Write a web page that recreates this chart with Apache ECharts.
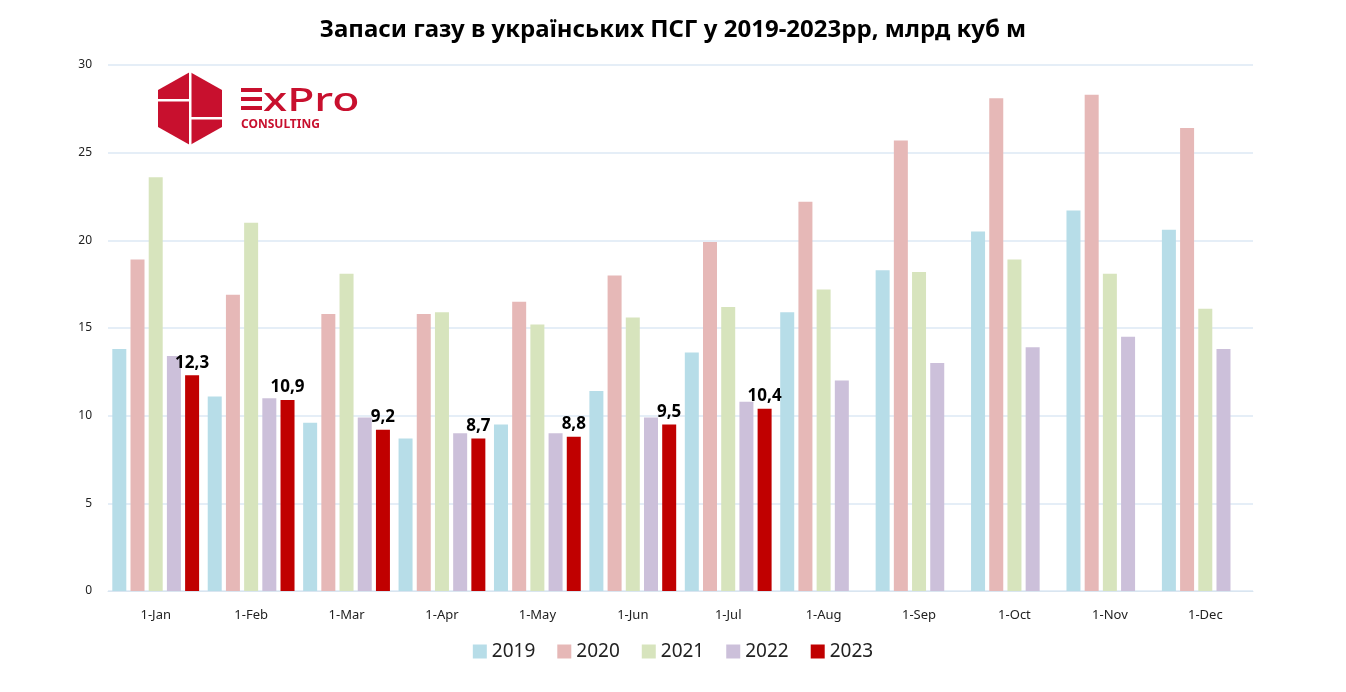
<!DOCTYPE html>
<html>
<head>
<meta charset="utf-8">
<script src="https://cdn.jsdelivr.net/npm/echarts@6/dist/echarts.min.js"></script>
<style>
    html, body { margin: 0; padding: 0; background: #fff; }
    #chart { width: 1346px; height: 692px; }
</style>
</head>
<body>
<div id="chart"></div>
<script>
// місяці (категорії)
var months = ['1-Jan', '1-Feb', '1-Mar', '1-Apr', '1-May', '1-Jun', '1-Jul', '1-Aug', '1-Sep', '1-Oct', '1-Nov', '1-Dec'];
var years = ['2019', '2020', '2021', '2022', '2023'];

// запаси газу, млрд куб м
var gas2019 = [13.8, 11.1, 9.6, 8.7, 9.5, 11.4, 13.6, 15.9, 18.3, 20.5, 21.7, 20.6];
var gas2020 = [18.9, 16.9, 15.8, 15.8, 16.5, 18.0, 19.9, 22.2, 25.7, 28.1, 28.3, 26.4];
var gas2021 = [23.6, 21.0, 18.1, 15.9, 15.2, 15.6, 16.2, 17.2, 18.2, 18.9, 18.1, 16.1];
var gas2022 = [13.4, 11.0, 9.9, 9.0, 9.0, 9.9, 10.8, 12.0, 13.0, 13.9, 14.5, 13.8];
var gas2023 = [12.3, 10.9, 9.2, 8.7, 8.8, 9.5, 10.4];

var yTicks = [0, 5, 10, 15, 20, 25, 30];

var baseColor = ['#b7dde8', '#e6b8b7', '#d7e4bd', '#ccc0da', '#c00000'];
var seriesData = [gas2019, gas2020, gas2021, gas2022, gas2023];

var chart = echarts.init(document.getElementById('chart'));

var series = years.map(function (y, i) {
    var s = {
        name: y,
        type: 'bar',
        data: seriesData[i],
        barWidth: 14,
        barGap: '30%',
        itemStyle: { color: baseColor[i] },
        emphasis: { disabled: true }
    };
    if (y == '2023') {
        s.label = {
            show: true,
            position: 'top',
            distance: 4,
            color: '#000',
            fontWeight: 'bold',
            fontSize: 17,
            fontFamily: 'Noto Sans',
            formatter: function (p) {
                return p.value.toFixed(1).replace('.', ',');
            }
        };
    }
    return s;
});

// логотип ExPro
var logoRed = '#c8102e';
var logo = [
    {
        type: 'polygon',
        shape: { points: [[190, 72], [222, 90], [222, 127], [190, 145], [158, 127], [158, 90]] },
        style: { fill: logoRed }
    },
    { type: 'rect', shape: { x: 189, y: 70, width: 2.5, height: 77 }, style: { fill: '#fff' } },
    { type: 'rect', shape: { x: 156, y: 99, width: 34, height: 2.5 }, style: { fill: '#fff' } },
    { type: 'rect', shape: { x: 190, y: 117, width: 34, height: 2.5 }, style: { fill: '#fff' } },
    // літера E у вигляді трьох смуг
    { type: 'rect', shape: { x: 241, y: 88, width: 21, height: 4 }, style: { fill: logoRed } },
    { type: 'rect', shape: { x: 241, y: 97, width: 21, height: 4 }, style: { fill: logoRed } },
    { type: 'rect', shape: { x: 241, y: 106, width: 21, height: 4 }, style: { fill: logoRed } },
    {
        type: 'text', x: 263, y: 118, scaleX: 1.35, originX: 0, originY: 0,
        style: { text: 'xPro', fill: logoRed, font: '500 33px "Noto Sans"', textVerticalAlign: 'bottom', y: 0 }
    },
    {
        type: 'text', x: 241, y: 119,
        style: { text: 'CONSULTING', fill: logoRed, font: 'bold 12px "Noto Sans"' }
    }
];

var option = {
    animation: false,
    color: baseColor,
    title: {
        text: 'Запаси газу в українських ПСГ у 2019-2023рр, млрд куб м',
        left: 'center',
        top: 13,
        textStyle: {
            fontFamily: 'Noto Sans',
            fontWeight: 'bold',
            fontSize: 24,
            color: '#000'
        }
    },
    legend: {
        bottom: 26,
        left: 'center',
        itemWidth: 14,
        itemHeight: 14,
        itemGap: 22,
        icon: 'rect',
        textStyle: { fontSize: 19, color: '#222', fontFamily: 'Noto Sans' },
        data: years
    },
    grid: { left: 108, right: 93, top: 65, bottom: 101 },
    xAxis: {
        type: 'category',
        data: months,
        axisTick: { show: false },
        axisLine: { lineStyle: { color: '#d9e5f0' } },
        axisLabel: { color: '#222', fontSize: 13, margin: 18, fontFamily: 'Noto Sans' }
    },
    yAxis: {
        type: 'value',
        min: yTicks[0],
        max: yTicks[yTicks.length - 1],
        interval: 5,
        axisLine: { show: false },
        axisTick: { show: false },
        axisLabel: { color: '#222', fontSize: 12, margin: 16, fontFamily: 'Noto Sans' },
        splitLine: { lineStyle: { color: '#dde9f5', width: 1.5 } }
    },
    graphic: logo,
    series: series
};

chart.setOption(option);
</script>
</body>
</html>
